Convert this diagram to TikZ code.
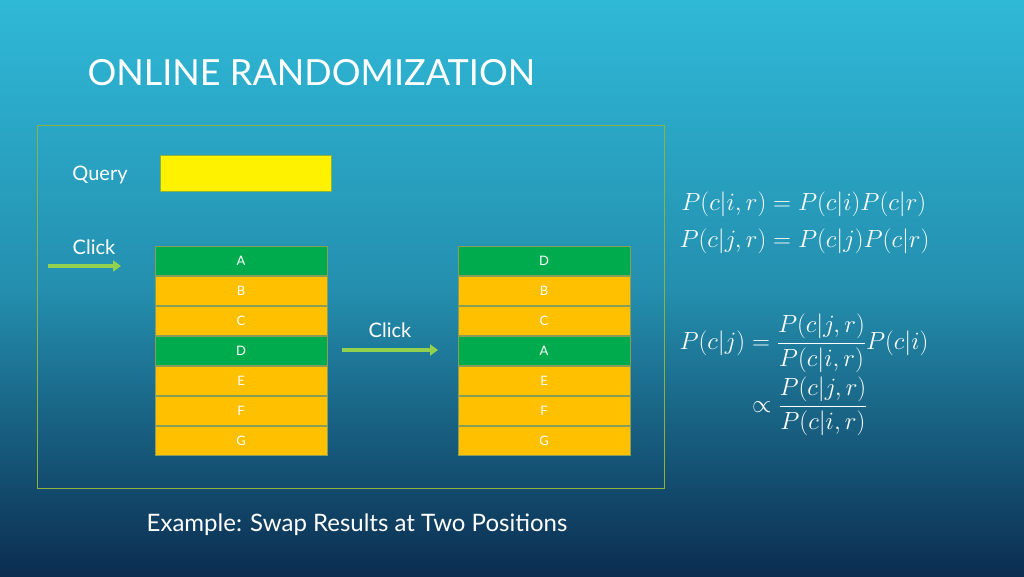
\documentclass[tikz,border=0pt]{standalone}
\usepackage{amsmath}
\usepackage{fontspec}
\setmainfont{Lato}
\usepackage{tikz}
\usetikzlibrary{positioning,arrows.meta}
\definecolor{bgtop}{HTML}{2FB9D7}
\definecolor{bgbot}{HTML}{0B2D50}
\definecolor{frameline}{HTML}{8DB33C}
\definecolor{hitgreen}{HTML}{00AB4E}
\definecolor{missorange}{HTML}{FFC000}
\definecolor{arrowgreen}{HTML}{92D050}

\begin{document}
\begin{tikzpicture}[x=1pt,y=-1pt,
                    row/.style={minimum width=172pt, minimum height=29pt, inner sep=0pt, draw=frameline!60!gray, font=\fontsize{13}{15}\selectfont, text=white},
                    hit/.style={row, fill=hitgreen},
                    miss/.style={row, fill=missorange},
                    clickarrow/.style={line width=3.5pt, arrowgreen, -{Triangle[length=8pt,width=11pt]}},
                    whitetext/.style={text=white, font=\fontsize{20}{24}\selectfont},
                   ]

\shade[top color=bgtop, bottom color=bgbot, middle color=bgtop!70!bgbot] (0,0) rectangle (1024,576);
\useasboundingbox (0,0) rectangle (1024,576);

\node[anchor=west, text=white, font=\fontsize{36}{40}\selectfont] (title) at (84,73) {ONLINE RANDOMIZATION};

\draw[frameline, thick] (37,125) rectangle (664,488);

\node[whitetext] (query) at (100,175) {Query};
\node[draw=frameline, fill=yellow, minimum width=171pt, minimum height=36pt, inner sep=0pt] (qbox) at (245.5,173) {};

% ranking before and after the swap
\foreach \lab/\sty [count=\i] in {A/hit,B/miss,C/miss,D/hit,E/miss,F/miss,G/miss}
  \node[\sty] (l\i) at (241,231+30*\i) {\lab};
\foreach \lab/\sty [count=\i] in {D/hit,B/miss,C/miss,A/hit,E/miss,F/miss,G/miss}
  \node[\sty] (r\i) at (544,231+30*\i) {\lab};

\node[whitetext] (click1) at (94,247) {Click};
\coordinate (c1) at (48,266);
\coordinate (c1end) at (121,266);
\draw[clickarrow] (c1) -- (c1end);
\node[whitetext] (click2) at (390,330) {Click};
\coordinate (c2) at (342,350);
\coordinate (c2end) at (438,350);
\draw[clickarrow] (c2) -- (c2end);

\node[text=white, font=\fontsize{24}{28}\selectfont] (caption) at (357,525) {Example: Swap Results at Two Positions};

% model equations
\node[anchor=west, text=white, font=\fontsize{28}{34}\selectfont] (eq1) at (676,222)
  {$\begin{aligned}P(c|i,r)&=P(c|i)P(c|r)\\P(c|j,r)&=P(c|j)P(c|r)\end{aligned}$};
\node[anchor=west, text=white, font=\fontsize{26}{30}\selectfont] (eq2) at (676,375)
  {$\begin{aligned}P(c|j)&=\dfrac{P(c|j,r)}{P(c|i,r)}P(c|i)\\&\propto\dfrac{P(c|j,r)}{P(c|i,r)}\end{aligned}$};

\end{tikzpicture}
\end{document}
